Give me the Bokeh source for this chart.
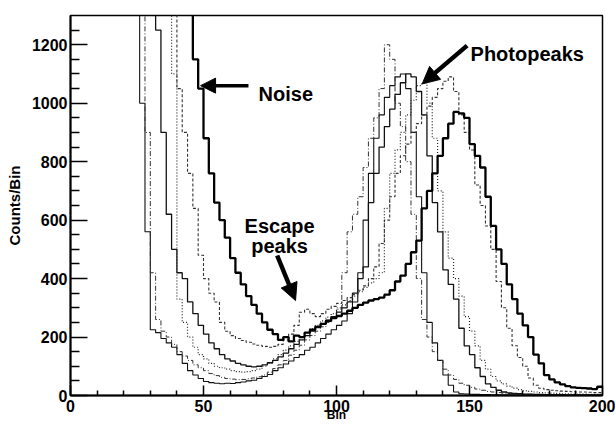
from bokeh.plotting import figure
from bokeh.models import Range1d, FixedTicker, Arrow, NormalHead, Label
from bokeh.embed import file_html
from bokeh.resources import INLINE

# histogram bins: left edges, width 2 (bins 24..198)
bin_left = list(range(24, 200, 2))
bin_right_edge = 200

# counts per bin for six gain settings (1500 = off scale, above noise wall)
s1 = [1500, 1000, 560, 225, 215, 195, 180, 165, 140, 110,
      85, 70, 58, 48, 44, 42, 40, 42, 41, 44,
      46, 50, 52, 58, 65, 72, 85, 95, 108, 118,
      130, 140, 155, 165, 180, 195, 210, 225, 240, 255,
      280, 320, 420, 600, 760, 880, 960, 1020, 1060, 1090,
      1100, 1050, 900, 680, 420, 250, 180, 120, 70, 35,
      12, 6, 5, 4, 4, 3, 3, 2, 2, 2,
      2, 2, 1, 1, 1, 1, 1, 1, 1, 1,
      1, 1, 1, 1, 1, 1, 1, 1]
s2 = [1500, 1500, 900, 420, 260, 220, 200, 175, 150, 135,
      120, 105, 95, 85, 75, 68, 62, 58, 56, 54,
      55, 57, 60, 64, 70, 80, 92, 105, 120, 138,
      155, 172, 190, 205, 220, 235, 250, 265, 300, 420,
      560, 620, 680, 780, 880, 950, 1050, 1200, 1150, 1000,
      920, 800, 620, 400, 260, 200, 150, 120, 90, 70,
      55, 42, 35, 28, 22, 18, 14, 12, 10, 8,
      7, 6, 5, 5, 4, 4, 3, 3, 3, 3,
      2, 2, 2, 2, 2, 2, 2, 2]
s3 = [1500, 1500, 1500, 1500, 1250, 900, 620, 500, 420, 400,
      320, 280, 240, 210, 180, 160, 140, 125, 118, 110,
      105, 100, 98, 100, 105, 112, 120, 132, 145, 160,
      175, 190, 205, 220, 232, 245, 258, 270, 285, 300,
      320, 350, 400, 440, 660, 760, 850, 920, 980, 1030,
      1070, 1100, 1090, 1040, 960, 820, 660, 560, 430, 380,
      330, 230, 170, 140, 95, 65, 40, 28, 18, 12,
      9, 7, 6, 5, 5, 4, 4, 3, 3, 3,
      3, 2, 2, 2, 2, 2, 2, 2]
s4 = [1500, 1500, 1500, 1500, 1500, 1500, 1500, 1100, 330, 250,
      200, 165, 140, 125, 110, 100, 95, 90, 85, 82,
      80, 82, 85, 90, 100, 110, 125, 140, 155, 170,
      185, 200, 215, 228, 240, 255, 268, 280, 295, 310,
      325, 340, 355, 370, 385, 400, 420, 640, 760, 840,
      900, 960, 1010, 1060, 1070, 1000, 880, 700, 560, 470,
      400, 340, 270, 220, 170, 120, 90, 65, 50, 40,
      32, 25, 20, 16, 14, 12, 10, 9, 8, 7,
      6, 6, 5, 5, 5, 4, 4, 4]
s5 = [1500, 1500, 1500, 1500, 1500, 1500, 1500, 1500, 1050, 900,
      760, 640, 480, 400, 350, 320, 250, 220, 205, 195,
      188, 182, 176, 172, 168, 165, 168, 175, 190, 210,
      240, 285, 295, 280, 270, 280, 295, 305, 315, 325,
      335, 345, 360, 375, 400, 440, 520, 600, 680, 760,
      820, 860, 900, 930, 960, 990, 1020, 1050, 1075, 1090,
      1040, 960, 900, 840, 720, 650, 580, 500, 390, 300,
      230, 170, 130, 100, 60, 35, 25, 20, 18, 16,
      15, 14, 13, 12, 12, 11, 10, 10]
s6 = [1500, 1500, 1500, 1500, 1500, 1500, 1500, 1500, 1500, 1500,
      1500, 1150, 1050, 880, 760, 660, 600, 540, 470, 420,
      380, 340, 310, 280, 250, 225, 210, 190, 200, 185,
      205, 200, 215, 225, 235, 245, 255, 265, 272, 280,
      290, 300, 310, 318, 325, 330, 335, 345, 360, 390,
      410, 450, 490, 530, 640, 700, 760, 820, 880, 930,
      970, 965, 950, 860, 820, 780, 680, 580, 500, 450,
      380, 330, 280, 240, 200, 140, 110, 70, 55, 45,
      38, 32, 28, 26, 25, 24, 22, 30]

series = [s1, s2, s3, s4, s5, s6]
for s in series:
    assert len(s) == len(bin_left)

x_ticks = [0, 50, 100, 150, 200]
x_minor_ticks = [10, 20, 30, 40, 60, 70, 80, 90, 110, 120, 130, 140, 160, 170, 180, 190]
y_ticks = [0, 200, 400, 600, 800, 1000, 1200]
y_minor_ticks = [50, 100, 150, 250, 300, 350, 450, 500, 550, 650, 700, 750,
                 850, 900, 950, 1050, 1100, 1150, 1250]

FONT = "Liberation Sans"

p = figure(width=615, height=424, output_backend="svg", toolbar_location=None,
           x_range=Range1d(0, 200), y_range=Range1d(0, 1300),
           min_border_left=70, min_border_right=13, min_border_top=15,
           min_border_bottom=29)
p.grid.visible = False
p.background_fill_color = "white"
p.border_fill_color = "white"
p.outline_line_color = "black"
p.outline_line_width = 1.5

styles = [
    dict(line_width=1.1, line_dash="solid", line_color="#111111"),
    dict(line_width=1.0, line_dash="5 2 1 2", line_color="#333333"),
    dict(line_width=1.3, line_dash="solid", line_color="#111111"),
    dict(line_width=1.2, line_dash="1 2", line_color="#222222"),
    dict(line_width=1.1, line_dash="3 2", line_color="#333333"),
    dict(line_width=2.3, line_dash="solid", line_color="black"),
]
for s, st in zip(series, styles):
    xs = bin_left + [bin_right_edge]
    ys = s + [s[-1]]
    p.step(x=xs, y=ys, mode="after", **st)

xa = p.xaxis[0]
xa.ticker = FixedTicker(ticks=x_ticks, minor_ticks=x_minor_ticks)
xa.major_tick_in = 10
xa.major_tick_out = 0
xa.minor_tick_in = 5
xa.minor_tick_out = 0
xa.axis_line_width = 2
xa.major_tick_line_width = 1.5
xa.minor_tick_line_width = 1.5
xa.major_label_text_font = FONT
xa.major_label_text_font_style = "bold"
xa.major_label_text_font_size = "16px"
xa.major_label_text_color = "black"
xa.major_label_standoff = 4
xa.axis_label = "Bin"
xa.axis_label_text_font = FONT
xa.axis_label_text_font_style = "bold"
xa.axis_label_text_font_size = "12px"
xa.axis_label_text_color = "black"
xa.axis_label_standoff = -7

ya = p.yaxis[0]
ya.ticker = FixedTicker(ticks=y_ticks, minor_ticks=y_minor_ticks)
ya.major_tick_in = 17
ya.major_tick_out = 0
ya.minor_tick_in = 9
ya.minor_tick_out = 0
ya.axis_line_width = 2
ya.major_tick_line_width = 1.5
ya.minor_tick_line_width = 1.5
ya.major_label_text_font = FONT
ya.major_label_text_font_style = "bold"
ya.major_label_text_font_size = "16px"
ya.major_label_text_color = "black"
ya.major_label_standoff = 3
ya.axis_label = "Counts/Bin"
ya.axis_label_text_font = FONT
ya.axis_label_text_font_style = "bold"
ya.axis_label_text_font_size = "15px"
ya.axis_label_text_color = "black"
ya.axis_label_standoff = 6

def ann(x, y, t, align="left"):
    p.add_layout(Label(x=x, y=y, text=t, text_align=align, text_baseline="alphabetic",
                       text_font=FONT, text_font_style="bold", text_font_size="20px",
                       text_color="black"))

ann(70.7, 1032, "Noise")
ann(150.4, 1169, "Photopeaks")
ann(78.6, 581, "Escape", "center")
ann(78.6, 513, "peaks", "center")

p.add_layout(Arrow(end=NormalHead(size=15, fill_color="black", line_color="black"),
                   x_start=66.9, y_start=1060, x_end=48.9, y_end=1060,
                   line_width=3.5, line_color="black"))
p.add_layout(Arrow(end=NormalHead(size=17, fill_color="black", line_color="black"),
                   x_start=149.1, y_start=1197, x_end=132.2, y_end=1066,
                   line_width=4.5, line_color="black"))
p.add_layout(Arrow(end=NormalHead(size=17, fill_color="black", line_color="black"),
                   x_start=77.7, y_start=479, x_end=84.6, y_end=325,
                   line_width=4.5, line_color="black"))

open("out.html", "w").write(file_html(p, INLINE))
